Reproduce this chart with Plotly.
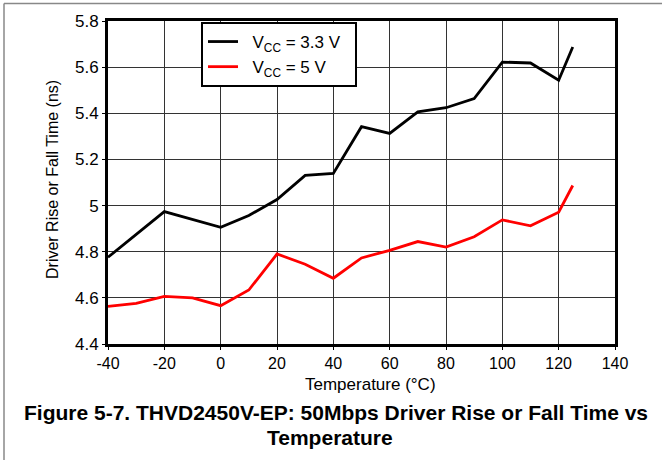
import plotly.graph_objects as go

temps = [-40, -30, -20, -10, 0, 10, 20, 30, 40, 50, 60, 70, 80, 90, 100, 110, 120, 125]
temps_33 = [-40, -20, 0, 10, 20, 30, 40, 50, 60, 70, 80, 90, 100, 110, 120, 125]
vcc33 = [4.776, 4.974, 4.906, 4.957, 5.026, 5.131, 5.139, 5.342, 5.313, 5.406, 5.424, 5.464, 5.622, 5.618, 5.543, 5.687]
vcc5 = [4.563, 4.576, 4.606, 4.600, 4.566, 4.634, 4.790, 4.746, 4.685, 4.773, 4.806, 4.844, 4.820, 4.865, 4.938, 4.912, 4.971, 5.087]

x_ticks = [-40, -20, 0, 20, 40, 60, 80, 100, 120, 140]
x_ticktext = ["-40", "-20", "0", "20", "40", "60", "80", "100", "120", "140"]
y_ticks = [4.4, 4.6, 4.8, 5.0, 5.2, 5.4, 5.6, 5.8]
y_ticktext = ["4.4", "4.6", "4.8", "5", "5.2", "5.4", "5.6", "5.8"]

FONT = "Liberation Sans, Arial, sans-serif"
NB = "\u00a0"

fig = go.Figure()
fig.add_trace(go.Scatter(x=temps_33, y=vcc33, mode="lines",
                         name=NB * 2 + "V<sub>CC</sub> = 3.3 V" + NB * 2,
                         line=dict(color="black", width=2.8)))
fig.add_trace(go.Scatter(x=temps, y=vcc5, mode="lines",
                         name=NB * 2 + "V<sub>CC</sub> = 5 V",
                         line=dict(color="#ff0000", width=2.8)))

L, R, T, B = 108, 47, 21, 116
W, H = 662, 460
pw, ph = W - L - R, H - T - B

def px(x):
    return (x - L) / pw

def py(y):
    return (H - B - y) / ph

fig.update_layout(
    width=W, height=H,
    margin=dict(l=L, r=R, t=T, b=B),
    paper_bgcolor="white", plot_bgcolor="white",
    font=dict(family=FONT, color="black", size=17),
    showlegend=True,
    legend=dict(x=px(201), y=py(22), xanchor="left", yanchor="top",
                bgcolor="white", bordercolor="black", borderwidth=2,
                font=dict(size=17), tracegroupgap=0, itemwidth=30),
    xaxis=dict(range=[-40, 140], tickvals=x_ticks, ticktext=x_ticktext, showgrid=True,
               gridcolor="#333", gridwidth=1,
               showline=True, linecolor="black", linewidth=3, mirror=True,
               ticks="outside", ticklen=3, tickcolor="black", zeroline=False,
               tickfont=dict(size=16)),
    yaxis=dict(range=[4.4, 5.8], tickvals=y_ticks, ticktext=y_ticktext, showgrid=True,
               gridcolor="#333", gridwidth=1,
               showline=True, linecolor="black", linewidth=3, mirror=True,
               ticks="outside", ticklen=3, tickcolor="black", zeroline=False,
               tickfont=dict(size=17)),
    annotations=[
        dict(text="Temperature (°C)", x=px(370), y=py(384), xref="paper", yref="paper",
             showarrow=False, font=dict(size=17), xanchor="center", yanchor="middle"),
        dict(text="Driver Rise or Fall Time (ns)", x=px(52), y=py(180), xref="paper", yref="paper",
             showarrow=False, textangle=-90, font=dict(size=16), xanchor="center", yanchor="middle"),
        dict(text="<b>Figure 5-7. THVD2450V-EP: 50Mbps Driver Rise or Fall Time vs</b>",
             x=px(336), y=py(412), xref="paper", yref="paper", showarrow=False,
             font=dict(size=21), xanchor="center", yanchor="middle"),
        dict(text="<b>Temperature</b>", x=px(330), y=py(437), xref="paper", yref="paper",
             showarrow=False, font=dict(size=21), xanchor="center", yanchor="middle"),
    ],
    shapes=[
        dict(type="line", xref="paper", yref="paper", x0=px(4), x1=px(662), y0=py(3.5), y1=py(3.5),
             line=dict(color="#888", width=1.5)),
        dict(type="line", xref="paper", yref="paper", x0=px(4), x1=px(4), y0=py(3.5), y1=py(460),
             line=dict(color="#888", width=1.5)),
    ],
)

fig.write_html("out.html", config={"displayModeBar": False},
               post_script="document.body.style.margin='0';document.body.style.overflow='hidden';")
